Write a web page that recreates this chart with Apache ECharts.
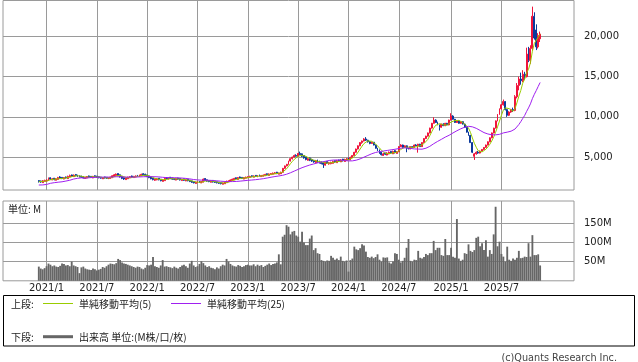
<!DOCTYPE html>
<html><head><meta charset="utf-8">
<script src="https://cdn.jsdelivr.net/npm/echarts@6/dist/echarts.min.js"></script>
<style>html,body{margin:0;padding:0;background:#fff}#c{width:638px;height:362px}</style>
</head><body><div id="c"></div>
<script>
// ---- axis / categories (weekly, Monday) ----
const axisStartUTC = Date.UTC(2020, 7, 3);   // first axis slot 2020-08-03
const axisSlots = 295;
const dataStartSlot = 18;                     // first candle week 2020-12-07
const gridDates  = ['2021-01-04','2021-07-05','2022-01-03','2022-07-04','2023-01-02','2023-07-03','2024-01-01','2024-07-01','2025-01-06','2025-07-07'];
const gridLabels = ['2021/1','2021/7','2022/1','2022/7','2023/1','2023/7','2024/1','2024/7','2025/1','2025/7'];
const priceTicks = [5000, 10000, 15000, 20000];
const volumeTicks = [50, 100, 150];

// ---- weekly OHLC (yen) ----
const opens = [
2080,2030,1820,1970,2020,2070,2430,2170,2380,2120,
2220,2530,2480,2270,2530,2320,2520,2780,2570,2830,
2780,2680,2630,2580,2340,2400,2660,2610,2400,2680,
2630,2560,2510,2300,2530,2480,2280,2340,2420,2600,
2720,2960,2800,2610,2430,2200,2300,2420,2650,2450,
2520,2730,2540,2670,2930,2880,2780,2660,2530,2380,
2120,2170,2380,2260,1980,2070,2450,2240,2500,2410,
2340,2140,2400,2340,2080,2300,2030,2250,2140,2040,
1940,1720,1780,2000,1780,1880,2340,2180,2090,1870,
2100,1980,1930,1880,1820,1620,1680,1820,1920,1970,
2070,2170,2430,2220,2530,2480,2270,2370,2420,2470,
2680,2500,2730,2520,2780,2570,2620,2670,2930,2720,
2820,2870,2920,3130,2870,2920,3100,3600,3900,4100,
4500,4800,5000,5200,5100,5450,5400,5200,5000,4600,
4900,4700,4600,4300,4650,4500,4400,4300,4000,4450,
4150,4180,4220,4550,4300,4650,4400,4750,4450,4600,
4900,4650,4950,5200,5600,6000,6400,6800,7000,7250,
7100,6900,6700,6850,6500,6100,5900,5600,5200,5500,
5250,5400,5700,5400,5800,5450,5650,6300,6500,6200,
6400,6100,6000,6300,6200,6500,6400,6600,6300,6800,
7300,7600,8000,8600,9200,9600,9300,9000,8700,9100,
8900,9200,9000,9600,10100,9700,9300,9500,9200,9400,
9100,8700,8100,7700,6800,5100,5400,5600,5500,5750,
5950,6200,6500,6900,7400,8000,8600,9500,10300,11000,
11500,11900,10900,10200,10600,10900,10800,12500,13900,14700,
14500,15300,15000,17800,17000,18500,22500,20800,18700,19700];
const closes = [
1950,1900,2050,2100,2150,2350,2250,2300,2200,2300,
2450,2400,2350,2450,2400,2600,2700,2650,2750,2700,
2600,2550,2500,2420,2480,2580,2530,2480,2600,2550,
2480,2430,2380,2450,2400,2360,2420,2500,2680,2800,
2880,2720,2530,2350,2280,2380,2500,2570,2530,2600,
2650,2620,2750,2850,2800,2700,2580,2450,2300,2200,
2250,2300,2180,2060,2150,2370,2320,2420,2330,2260,
2220,2320,2260,2160,2220,2110,2170,2060,1960,1860,
1800,1860,1920,1860,1960,2260,2100,2010,1950,2020,
1900,1850,1800,1740,1700,1760,1900,2000,2050,2150,
2250,2350,2300,2450,2400,2350,2450,2500,2550,2600,
2580,2650,2600,2700,2650,2700,2750,2850,2800,2900,
2950,3000,3050,2950,3000,3100,3600,3900,4100,4500,
4800,5000,5200,5100,5450,5300,5100,4900,4700,4800,
4600,4500,4400,4550,4400,4300,4200,4100,4350,4250,
4300,4320,4450,4400,4550,4500,4650,4550,4700,4800,
4750,4950,5200,5600,6000,6400,6800,7000,7250,7100,
6900,6700,6850,6500,6100,5800,5500,5300,5400,5350,
5500,5600,5500,5700,5550,5650,6300,6500,6200,6400,
6100,6000,6300,6200,6500,6400,6600,6300,6800,7300,
7600,8000,8600,9200,9600,9300,9000,8700,9100,8900,
9200,9000,9600,10100,9700,9300,9500,9200,9400,9100,
8700,8100,7700,6800,5600,5400,5600,5500,5750,5950,
6200,6500,6900,7400,8000,8600,9500,10300,11000,11500,
11900,10900,10200,10600,10900,10800,12500,13900,14700,14500,
15300,15000,17800,17000,18500,22500,19800,18700,20100,20300];
const lows = [
1840,1810,1800,1920,1970,2050,2160,2120,2110,2100,
2200,2340,2260,2240,2340,2300,2500,2560,2540,2610,
2520,2460,2410,2340,2320,2370,2460,2410,2380,2480,
2410,2360,2310,2280,2340,2280,2260,2320,2400,2570,
2670,2660,2460,2260,2160,2170,2270,2400,2460,2420,
2470,2540,2520,2640,2710,2610,2510,2380,2240,2110,
2040,2120,2110,1990,1960,2050,2240,2220,2260,2180,
2140,2120,2180,2090,2060,2040,2010,1990,1890,1790,
1730,1700,1760,1790,1760,1860,2040,1940,1880,1850,
1840,1780,1730,1660,1610,1600,1660,1800,1880,1940,
2040,2150,2210,2200,2320,2280,2250,2340,2390,2440,
2500,2480,2520,2500,2580,2550,2600,2650,2720,2700,
2790,2840,2890,2880,2850,2900,3080,3550,3850,4050,
4450,4700,4950,5050,5050,5250,5000,4800,4600,4550,
4500,4400,4300,4280,4300,4200,4100,3650,3950,4150,
4050,4100,4200,4300,4280,4400,4380,4450,4430,4550,
4650,4620,4900,5150,5550,5950,6350,6650,6950,7000,
6800,6600,6650,6450,6050,5750,5400,5200,5150,5250,
5220,5350,5400,5380,5450,5420,5620,6250,6150,6150,
5600,5950,5980,6150,6180,6350,5550,6250,6280,6750,
7250,7550,7950,8550,9150,9250,8950,8300,8650,8850,
8850,8950,8950,9550,9650,9250,9250,9150,9150,9050,
8650,8050,7650,6750,5500,4650,5300,5400,5450,5700,
5900,6150,6450,6850,7350,7950,8550,9450,10250,10900,
11400,10800,10000,10100,10500,10600,10700,12300,13300,14000,
14300,14600,14900,16800,16600,18200,19600,18300,18500,19300];
const highs = [
2130,2080,2140,2190,2240,2460,2480,2390,2410,2390,
2540,2630,2510,2520,2580,2690,2820,2830,2840,2900,
2800,2730,2680,2630,2560,2640,2700,2640,2660,2730,
2660,2600,2540,2520,2560,2510,2490,2560,2740,2890,
2960,2980,2830,2640,2480,2440,2560,2640,2700,2660,
2720,2780,2820,2940,3000,2930,2810,2680,2560,2410,
2340,2390,2400,2280,2240,2440,2500,2490,2530,2440,
2380,2390,2420,2360,2290,2320,2240,2270,2160,2070,
1960,1940,1990,2020,2030,2340,2400,2210,2120,2090,
2120,2010,1960,1910,1860,1840,1960,2070,2120,2220,
2320,2420,2460,2520,2580,2500,2520,2570,2620,2680,
2730,2720,2760,2770,2820,2780,2830,2920,2960,2970,
3020,3080,3140,3160,3070,3190,3650,3950,4150,4550,
4850,5050,5300,5350,5500,5680,5450,5250,5050,4930,
4950,4800,4650,4650,4680,4550,4450,4350,4450,4480,
4400,4430,4550,4580,4650,4680,4750,4780,4800,4900,
4930,5050,5250,5650,6050,6450,6850,7050,7350,7480,
7150,7000,6900,6880,6550,6150,5950,5650,5530,5550,
5600,5700,5750,5800,5850,5750,6350,6600,6550,6450,
6450,6150,6350,6350,6550,6600,6650,6650,6850,7350,
7650,8050,8650,9250,9950,9700,9400,9050,9150,9200,
9250,9250,9650,10450,10200,9750,9550,9550,9450,9450,
9150,8750,8150,7750,6850,5500,5700,5750,5800,6000,
6250,6550,6950,7450,8050,8650,9550,10350,11050,11600,
12150,11950,11000,10700,11000,11150,12700,14200,15000,15500,
15800,15600,18600,18700,18900,23700,23000,21500,20400,20600];

// ---- weekly volume (M shares) ----
const volumes = [
37,32,30,33,38,45,42,38,40,37,
36,39,45,44,40,41,38,50,40,38,
36,20,35,37,32,30,29,28,32,30,
27,29,31,36,34,38,42,45,44,43,
46,57,54,48,45,44,42,40,38,36,
34,37,36,32,30,34,41,40,42,62,
38,36,34,40,54,37,38,36,35,33,
37,34,32,36,40,42,38,34,45,52,
40,36,38,44,51,46,40,36,38,34,
33,30,35,32,38,42,40,57,50,44,
40,38,37,41,39,36,38,41,42,40,
40,43,38,42,39,41,36,39,42,45,
41,44,45,48,69,43,115,120,145,141,
121,128,130,118,115,102,128,100,93,93,
110,118,80,85,72,70,54,52,50,53,
52,65,60,55,58,54,63,52,50,53,
24,54,58,89,82,80,85,95,92,76,
62,60,63,59,62,69,55,50,61,60,
61,48,45,50,72,70,55,48,52,60,
86,109,52,50,55,54,78,60,58,62,
70,67,72,72,104,80,86,86,67,65,
109,67,67,86,63,60,161,58,52,55,
72,70,95,78,75,80,112,115,90,98,
80,106,63,80,70,121,193,90,102,70,
63,50,89,55,52,58,55,60,78,59,
60,63,62,98,63,119,67,67,69,40];

// MA25 for the first 24 weeks (window reaches before the chart)
const ma25Head = [1530,1530,1540,1560,1600,1680,1740,1760,1820,1860,1880,1900,1930,1980,2020,2060,2120,2200,2270,2310,2360,2400,2420,2430];

// ---- build ----
const categories = [];
for (let i = 0; i < axisSlots; i++) {
  categories.push(new Date(axisStartUTC + i * 7 * 86400000).toISOString().slice(0, 10));
}
function sma(arr, n, i) {
  const s = Math.max(0, i - n + 1);
  let t = 0; for (let k = s; k <= i; k++) t += arr[k];
  return Math.round(t / (i - s + 1));
}
const ma5 = closes.map((_, i) => sma(closes, 5, i));
const ma25 = closes.map((_, i) => i < ma25Head.length ? ma25Head[i] : sma(closes, 25, i));
const lead = Array(dataStartSlot).fill('-');
const candleData = lead.concat(opens.map((o, i) => [o, closes[i], lows[i], highs[i]]));
const volData = lead.concat(volumes);
const ma5Data = lead.concat(ma5);
const ma25Data = lead.concat(ma25);
const emptyData = categories.map(() => '-');

const GRID = '#9a9a9a';
const TXT = '#222';
const NUMFONT = 'DejaVu Sans';
const JPFONT = '"Noto Sans CJK JP", "Noto Sans", sans-serif';
const labelMap = {}; gridDates.forEach((d, i) => labelMap[d] = gridLabels[i]);
const vLines = gridDates.map(d => ({ xAxis: d, label: { show: false } }));
const hLabel = (txt) => ({ show: true, position: 'end', distance: 10, formatter: txt, color: TXT, fontSize: 10, fontFamily: NUMFONT });

const chart = echarts.init(document.getElementById('c'), null, { renderer: 'canvas' });
chart.setOption({
  animation: false,
  backgroundColor: '#fff',
  grid: [
    { left: 3, top: 0.5, width: 571, height: 189.5, show: true, borderColor: GRID, borderWidth: 1 },
    { left: 3, top: 201, width: 571, height: 79.8, show: true, borderColor: GRID, borderWidth: 1 }
  ],
  xAxis: [
    { type: 'category', gridIndex: 0, data: categories, boundaryGap: true, show: false },
    { type: 'category', gridIndex: 1, data: categories, boundaryGap: true,
      axisLine: { show: false }, axisTick: { show: false }, splitLine: { show: false },
      axisLabel: { interval: (i, v) => gridDates.includes(v), formatter: v => labelMap[v] || '',
        margin: 3, fontSize: 10, fontFamily: NUMFONT, color: TXT } }
  ],
  yAxis: [
    { type: 'value', gridIndex: 0, min: 909, max: 24463, show: false },
    { type: 'value', gridIndex: 1, min: 0, max: 208, show: false }
  ],
  series: [
    { type: 'line', xAxisIndex: 0, yAxisIndex: 0, data: emptyData, z: 0, silent: true,
      markLine: { z: 0, silent: true, symbol: ['none', 'none'], animation: false,
        lineStyle: { color: GRID, width: 1, type: 'solid' }, label: { show: false },
        data: vLines.concat(priceTicks.map(v => ({ yAxis: v, label: hLabel(v.toLocaleString('en-US')) }))) } },
    { type: 'line', xAxisIndex: 1, yAxisIndex: 1, data: emptyData, z: 0, silent: true,
      markLine: { z: 0, silent: true, symbol: ['none', 'none'], animation: false,
        lineStyle: { color: GRID, width: 1, type: 'solid' }, label: { show: false },
        data: vLines.concat(volumeTicks.map(v => ({ yAxis: v, label: hLabel(v + 'M') }))) } },
    { type: 'candlestick', name: 'price', xAxisIndex: 0, yAxisIndex: 0, data: candleData, z: 2,
      barWidth: 1.4,
      itemStyle: { color: '#f0143c', color0: '#0b3a9c', borderColor: '#f0143c', borderColor0: '#0b3a9c', borderWidth: 1 } },
    { type: 'line', name: '単純移動平均(5)', xAxisIndex: 0, yAxisIndex: 0, data: ma5Data, z: 3,
      symbol: 'none', showSymbol: false, lineStyle: { color: '#99cc00', width: 1 } },
    { type: 'line', name: '単純移動平均(25)', xAxisIndex: 0, yAxisIndex: 0, data: ma25Data, z: 3,
      symbol: 'none', showSymbol: false, lineStyle: { color: '#a020f0', width: 1 } },
    { type: 'bar', name: '出来高', xAxisIndex: 1, yAxisIndex: 1, data: volData, z: 2,
      barCategoryGap: '4%', itemStyle: { color: '#666666' } }
  ],
  graphic: [
    { type: 'text', left: 8, top: 204, style: { text: '単位: M', font: '10px ' + JPFONT, fill: TXT } },
    { type: 'rect', shape: { x: 3.5, y: 295.5, width: 631, height: 50.5 }, style: { fill: 'none', stroke: '#000', lineWidth: 1 } },
    { type: 'text', x: 11, y: 304.5, style: { text: '上段:', font: '10px ' + JPFONT, fill: TXT, verticalAlign: 'middle' } },
    { type: 'line', shape: { x1: 43, y1: 303.5, x2: 73, y2: 303.5 }, style: { stroke: '#99cc00', lineWidth: 1 } },
    { type: 'text', x: 79, y: 304.5, style: { text: '単純移動平均(5)', font: '10px ' + JPFONT, fill: TXT, verticalAlign: 'middle' } },
    { type: 'line', shape: { x1: 171, y1: 303.5, x2: 201, y2: 303.5 }, style: { stroke: '#a020f0', lineWidth: 1 } },
    { type: 'text', x: 207, y: 304.5, style: { text: '単純移動平均(25)', font: '10px ' + JPFONT, fill: TXT, verticalAlign: 'middle' } },
    { type: 'text', x: 11, y: 337.5, style: { text: '下段:', font: '10px ' + JPFONT, fill: TXT, verticalAlign: 'middle' } },
    { type: 'line', shape: { x1: 43, y1: 336.7, x2: 73, y2: 336.7 }, style: { stroke: '#666666', lineWidth: 3 } },
    { type: 'text', x: 79, y: 337.5, style: { text: '出来高 単位:(M株/口/枚)', font: '10px ' + JPFONT, fill: TXT, verticalAlign: 'middle' } },
    { type: 'text', x: 617, y: 358, style: { text: '(c)Quants Research Inc.', font: '9.7px ' + NUMFONT, fill: '#444', align: 'right', verticalAlign: 'middle' } }
  ]
});
</script></body></html>
